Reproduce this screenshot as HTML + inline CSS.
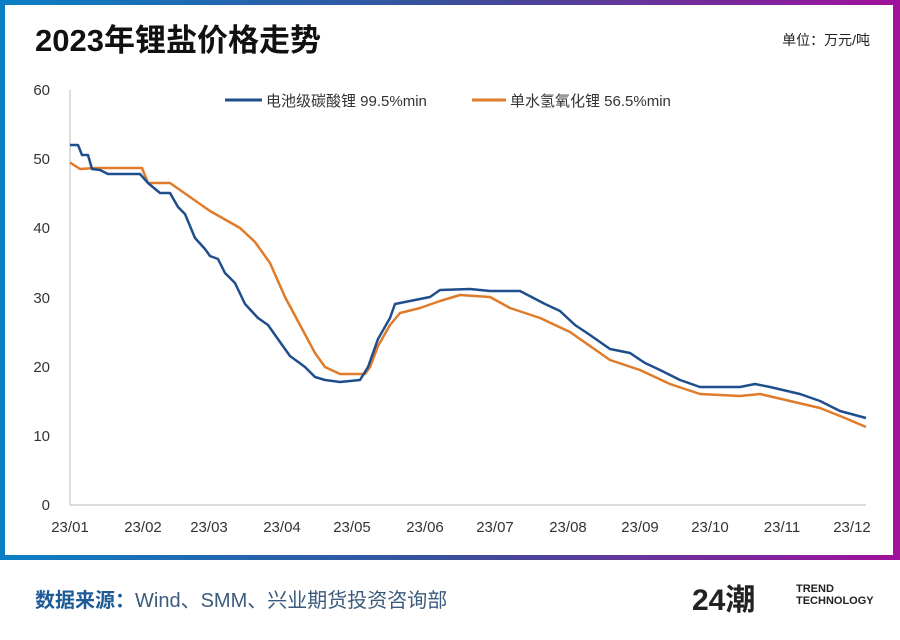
<!DOCTYPE html>
<html><head><meta charset="utf-8"><style>
body{margin:0;width:900px;height:640px;background:#fff;overflow:hidden;font-family:"Liberation Sans","Noto Sans CJK SC",sans-serif;}
</style></head><body>
<svg width="900" height="640" xmlns="http://www.w3.org/2000/svg" style="position:absolute;left:0;top:0">
<defs><linearGradient id="g" x1="0" x2="1" y1="0" y2="0">
<stop offset="0" stop-color="#0b7fc4"/><stop offset="0.5" stop-color="#3a4f9a"/><stop offset="1" stop-color="#a0109a"/></linearGradient></defs>
<rect x="0" y="0" width="900" height="560" fill="url(#g)"/>
<rect x="5" y="5" width="888" height="550" fill="#fff"/>
<text x="35" y="51" font-size="31" font-weight="bold" fill="#111" font-family="Liberation Sans,Noto Sans CJK SC,sans-serif">2023年锂盐价格走势</text>
<text x="870" y="45" font-size="14" fill="#222" text-anchor="end" font-family="Liberation Sans,Noto Sans CJK SC,sans-serif">单位：万元/吨</text>
<g font-size="15" fill="#333" text-anchor="end" font-family="Liberation Sans,sans-serif">
<text x="50" y="510">0</text><text x="50" y="441">10</text><text x="50" y="372">20</text><text x="50" y="303">30</text><text x="50" y="233">40</text><text x="50" y="164">50</text><text x="50" y="95">60</text></g>
<line x1="70" y1="90" x2="70" y2="505" stroke="#bbb" stroke-width="1"/>
<line x1="70" y1="505" x2="866" y2="505" stroke="#bbb" stroke-width="1"/>
<g font-size="15" fill="#333" text-anchor="middle" font-family="Liberation Sans,sans-serif">
<text x="70" y="532">23/01</text><text x="143" y="532">23/02</text><text x="209" y="532">23/03</text><text x="282" y="532">23/04</text><text x="352" y="532">23/05</text><text x="425" y="532">23/06</text><text x="495" y="532">23/07</text><text x="568" y="532">23/08</text><text x="640" y="532">23/09</text><text x="710" y="532">23/10</text><text x="782" y="532">23/11</text><text x="852" y="532">23/12</text></g>
<line x1="225" y1="100" x2="262" y2="100" stroke="#1f4e8c" stroke-width="3"/>
<text x="266" y="106" font-size="15" fill="#333" font-family="Liberation Sans,Noto Sans CJK SC,sans-serif">电池级碳酸锂 99.5%min</text>
<line x1="472" y1="100" x2="506" y2="100" stroke="#e07b2a" stroke-width="3"/>
<text x="510" y="106" font-size="15" fill="#333" font-family="Liberation Sans,Noto Sans CJK SC,sans-serif">单水氢氧化锂 56.5%min</text>
<polyline fill="none" stroke="#e07b2a" stroke-width="2.5" stroke-linejoin="round" points="70,162.5 80,169 95,168 142,168 148,183 160,183 170,183 190,197 210,211 240,228 255,242 270,263 285,297 300,325 315,353 325,367 340,374 365,374 370,367 378,346 390,325 400,313 420,308 440,301 460,295 490,297 510,308 540,318 570,332 590,346 610,360 640,370 670,384 700,394 740,396 760,394 790,401 820,408 845,418 866,427"/>
<polyline fill="none" stroke="#1f4e8c" stroke-width="2.5" stroke-linejoin="round" points="70,145 78,145 82,155 88,155 92,169 100,170 108,174 140,174 148,183 160,193 170,193 178,207 185,214 195,238 205,249 210,256 218,259 225,273 235,283 245,304 258,318 268,325 280,342 290,356 305,367 315,377 325,380 340,382 360,380 368,367 378,339 390,318 395,304 410,301 430,297 440,290 470,289 490,291 520,291 545,304 560,311 575,325 590,335 610,349 630,353 645,363 660,370 680,380 700,387 740,387 755,384 770,387 800,394 820,401 840,411 866,418"/>
<text x="35" y="607" font-size="20" fill="#1e5a96" font-weight="bold" font-family="Liberation Sans,Noto Sans CJK SC,sans-serif">数据来源：<tspan font-weight="normal" fill="#3c5b7c">Wind、SMM、兴业期货投资咨询部</tspan></text>
<text x="692" y="610" font-size="30" font-weight="bold" fill="#222" font-family="Liberation Sans,Noto Sans CJK SC,sans-serif">24潮</text>
<text x="796" y="592" font-size="11" font-weight="bold" fill="#222" font-family="Liberation Sans,sans-serif">TREND</text>
<text x="796" y="604" font-size="11" font-weight="bold" fill="#222" font-family="Liberation Sans,sans-serif">TECHNOLOGY</text>
</svg>
</body></html>
